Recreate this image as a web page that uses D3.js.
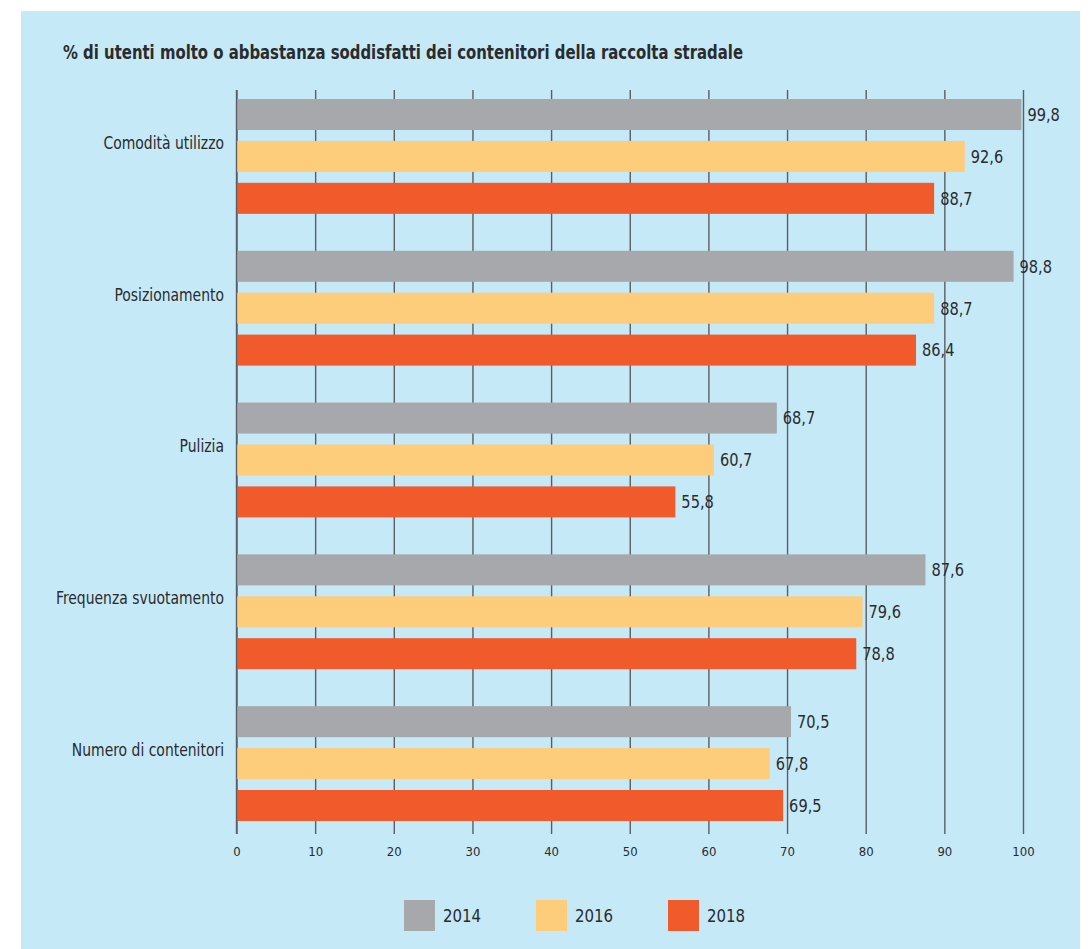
<!DOCTYPE html>
<html>
<head>
<meta charset="utf-8">
<script src="https://cdn.jsdelivr.net/npm/d3@7"></script>
<style>
  html, body { margin: 0; padding: 0; background: #ffffff; }
  svg { display: block; }
  text { font-family: "DejaVu Sans Condensed", "Liberation Sans Narrow", sans-serif; fill: #2b2b2d; }
</style>
</head>
<body>
<svg id="chart" width="1090" height="949"></svg>
<script>
// Satisfaction with street collection bins, by aspect and survey year
const categories = ["Comodità utilizzo", "Posizionamento", "Pulizia", "Frequenza svuotamento", "Numero di contenitori"];
const years = ["2014", "2016", "2018"];
const values2014 = [99.8, 98.8, 68.7, 87.6, 70.5];
const values2016 = [92.6, 88.7, 60.7, 79.6, 67.8];
const values2018 = [88.7, 86.4, 55.8, 78.8, 69.5];
const xTicks = [0, 10, 20, 30, 40, 50, 60, 70, 80, 90, 100];
const title = "% di utenti molto o abbastanza soddisfatti dei contenitori della raccolta stradale";

const seriesByYear = { "2014": values2014, "2016": values2016, "2018": values2018 };
const colors = { "2014": "#a7a8ab", "2016": "#fecd7c", "2018": "#f15a2b" };

const svg = d3.select("#chart");

// squeeze text horizontally to a narrow look
function condense(sel, factor) {
  sel.each(function () {
    const w = this.getComputedTextLength();
    d3.select(this)
      .attr("textLength", w * factor)
      .attr("lengthAdjust", "spacingAndGlyphs");
  });
}

// light blue panel
svg.append("rect")
  .attr("x", 21).attr("y", 11)
  .attr("width", 1059).attr("height", 949)
  .attr("fill", "#c6e9f8");

const titleText = svg.append("text")
  .attr("x", 63).attr("y", 59)
  .attr("font-size", 20)
  .attr("font-weight", "bold")
  .attr("fill", "#231f20")
  .text(title);
titleText.attr("textLength", 680).attr("lengthAdjust", "spacingAndGlyphs");

const x = d3.scaleLinear().domain([0, 100]).range([236.5, 1023]);
const y = d3.scaleBand().domain(categories).range([99, 821]).paddingInner(0.2434).paddingOuter(0);
const yInner = d3.scaleBand().domain(years).range([0, y.bandwidth()]).paddingInner(0.26).paddingOuter(0);

const gridTop = 90, gridBottom = 834;

// vertical gridlines with tick labels beneath
const axis = d3.axisBottom(x)
  .tickValues(xTicks)
  .tickSize(-(gridBottom - gridTop))
  .tickPadding(13)
  .tickFormat(d3.format("d"));

const gAxis = svg.append("g")
  .attr("transform", `translate(0,${gridBottom})`)
  .call(axis);
gAxis.select(".domain").remove();
gAxis.selectAll(".tick line")
  .attr("stroke", "#5a5d63")
  .attr("stroke-width", 1.4);
gAxis.selectAll(".tick text")
  .attr("font-family", "'Liberation Sans', Arial, sans-serif")
  .attr("font-size", 13)
  .attr("fill", "#3a3a3c");

// bars
const rows = [];
categories.forEach((c, i) => {
  years.forEach(yr => rows.push({ category: c, year: yr, value: seriesByYear[yr][i] }));
});

const gBars = svg.append("g");
gBars.selectAll("rect")
  .data(rows)
  .join("rect")
  .attr("x", x(0))
  .attr("y", d => y(d.category) + yInner(d.year))
  .attr("width", d => x(d.value) - x(0))
  .attr("height", yInner.bandwidth())
  .attr("fill", d => colors[d.year]);

// redraw the zero line above the bars
svg.append("line")
  .attr("x1", x(0)).attr("x2", x(0))
  .attr("y1", gridTop).attr("y2", gridBottom)
  .attr("stroke", "#5a5d63").attr("stroke-width", 1.4);

// value labels
const fmt = v => d3.format(".1f")(v).replace(".", ",");
const valueLabels = gBars.selectAll("text")
  .data(rows)
  .join("text")
  .attr("x", d => x(d.value) + 6)
  .attr("y", d => y(d.category) + yInner(d.year) + yInner.bandwidth() / 2)
  .attr("dy", "0.35em")
  .attr("font-size", 18)
  .text(d => fmt(d.value));
condense(valueLabels, 0.9);

// category labels
const catLabels = svg.append("g").selectAll("text")
  .data(categories)
  .join("text")
  .attr("x", 224)
  .attr("y", d => y(d) + y.bandwidth() / 2 - 14)
  .attr("dy", "0.35em")
  .attr("text-anchor", "end")
  .attr("font-size", 18)
  .text(d => d);
condense(catLabels, 0.86);

// legend
const legendX = [404, 536, 668];
const gLegend = svg.append("g");
years.forEach((yr, i) => {
  gLegend.append("rect")
    .attr("x", legendX[i]).attr("y", 900)
    .attr("width", 31).attr("height", 31)
    .attr("fill", colors[yr]);
  const t = gLegend.append("text")
    .attr("x", legendX[i] + 39).attr("y", 916)
    .attr("dy", "0.35em")
    .attr("font-size", 18.5)
    .text(yr);
  condense(t, 0.9);
});
</script>
</body>
</html>
